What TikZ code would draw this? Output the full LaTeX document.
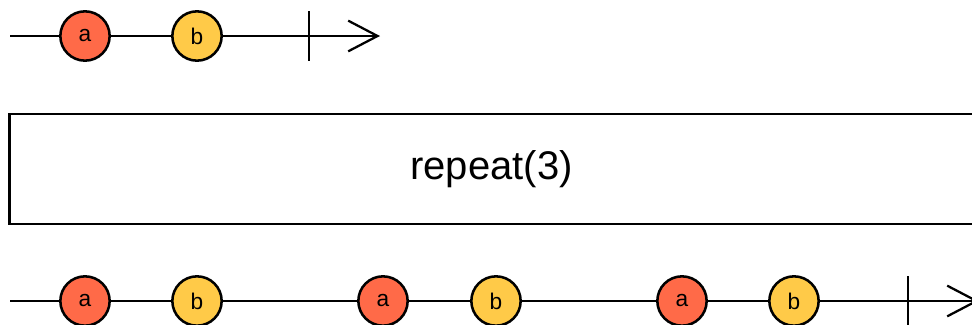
\documentclass[tikz,border=0pt]{standalone}
\usepackage{fontspec}
\setmainfont{Liberation Sans}
\usetikzlibrary{arrows.meta}
\definecolor{marbleA}{RGB}{255,106,72}
\definecolor{marbleB}{RGB}{255,202,72}
\tikzstyle{diagram} = [x = .75pt, y = -.75pt]
\tikzstyle{timeLine} = [line width = 1.7pt, color = black]
\tikzstyle{marbleStyle} = [circle, draw = black, line width = 1.9pt, minimum size = 37pt, inner sep = 0pt, font = \fontsize{17}{17}\selectfont]
\tikzstyle{opBox} = [draw = black, line width = 1.9pt, minimum width = 723pt, minimum height = 82.5pt, font = \fontsize{30}{30}\selectfont]
\newcommand{\marble}[4]{\node [marbleStyle, fill = #3] (#1) at (#2) {#4};}
\newcommand{\tick}[1]{\draw [timeLine] (#1) + (0,-25) -- + (0,25);}

\begin{document}
\begin{tikzpicture}[diagram]
          \useasboundingbox (0,0) rectangle (972,325);
          % source
          \coordinate (inStart) at (10,36);
          \coordinate (inEnd) at (380,36);
          \coordinate (inStop) at (309,36);
          \marble{inA}{85,36}{marbleA}{a}
          \marble{inB}{197,36}{marbleB}{b}
          \draw [timeLine, -{Straight Barb[length = 22pt, width = 23pt]}] (inStart) -- (inA) -- (inB) -- (inEnd);
          \tick{inStop}

          % operator
          \node [opBox] (op) at (491.5,169) {repeat(3)};

          % result
          \coordinate (outStart) at (10,301);
          \coordinate (outEnd) at (979,301);
          \coordinate (outStop) at (908,301);
          \marble{outA1}{85,301}{marbleA}{a}
          \marble{outB1}{197,301}{marbleB}{b}
          \marble{outA2}{383,301}{marbleA}{a}
          \marble{outB2}{496,301}{marbleB}{b}
          \marble{outA3}{682,301}{marbleA}{a}
          \marble{outB3}{794,301}{marbleB}{b}
          \draw [timeLine, -{Straight Barb[length = 22pt, width = 23pt]}] (outStart) -- (outA1) -- (outB1) -- (outA2) -- (outB2) -- (outA3) -- (outB3) -- (outEnd);
          \tick{outStop}
        \end{tikzpicture}
\end{document}
